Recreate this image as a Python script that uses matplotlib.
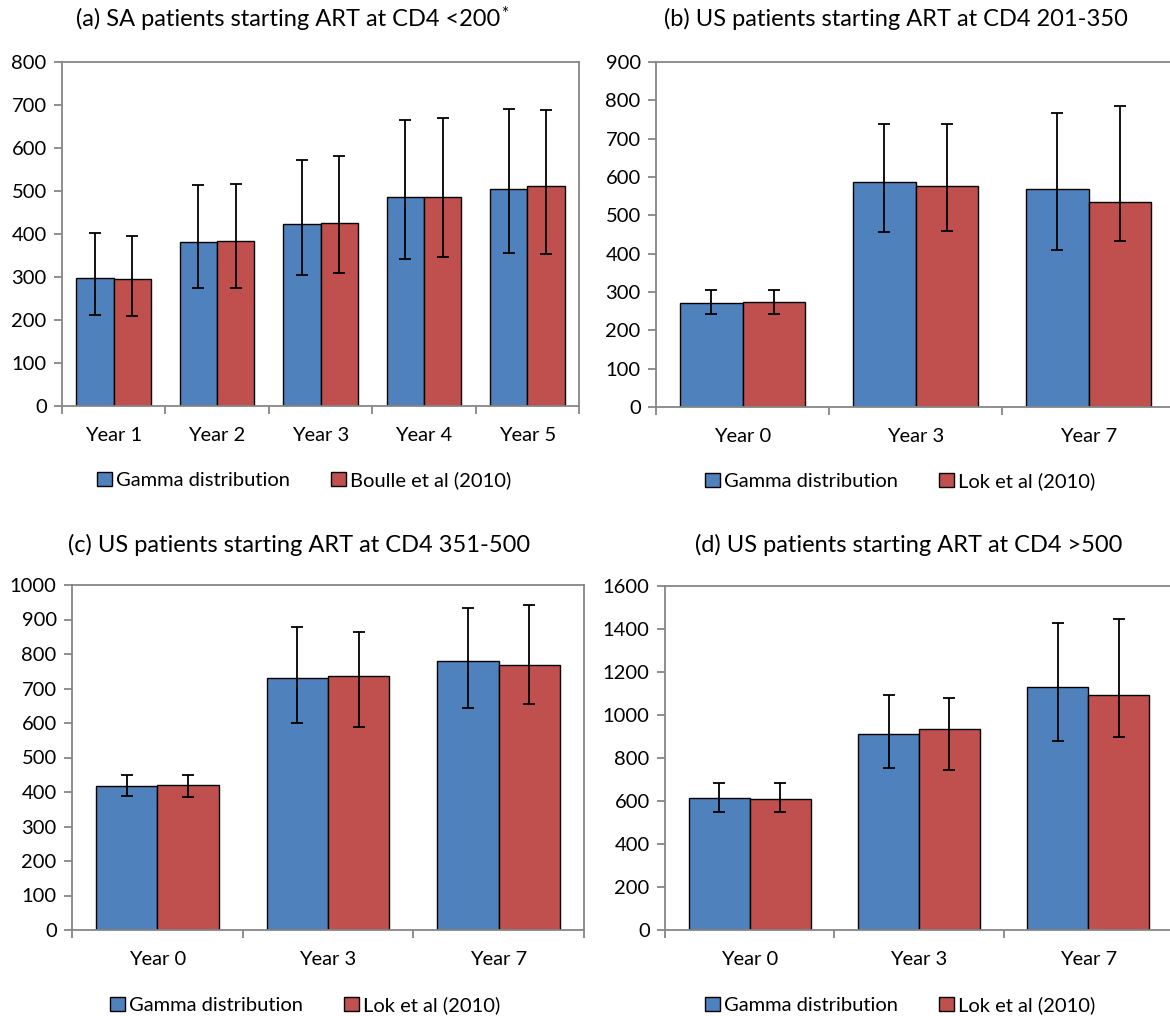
import matplotlib
matplotlib.use('Agg')
import matplotlib.pyplot as plt
import numpy as np

plt.rcParams['font.family'] = ['Lato', 'DejaVu Sans']

BLUE = '#4F81BD'
RED = '#C0504D'
GREY = '#868686'

# (a) South Africa, CD4 <200
a_years = ['Year 1', 'Year 2', 'Year 3', 'Year 4', 'Year 5']
a_gamma = [298, 382, 424, 486, 505]
a_gamma_lo = [211, 275, 304, 343, 356]
a_gamma_hi = [403, 515, 571, 665, 690]
a_ref = [296, 383, 426, 486, 512]
a_ref_lo = [209, 275, 309, 346, 353]
a_ref_hi = [396, 516, 581, 669, 688]

# (b) US, CD4 201-350
b_years = ['Year 0', 'Year 3', 'Year 7']
b_gamma = [272, 586, 569]
b_gamma_lo = [242, 456, 410]
b_gamma_hi = [306, 738, 766]
b_ref = [275, 577, 534]
b_ref_lo = [242, 459, 434]
b_ref_hi = [306, 739, 786]

# (c) US, CD4 351-500
c_years = ['Year 0', 'Year 3', 'Year 7']
c_gamma = [417, 730, 780]
c_gamma_lo = [387, 601, 643]
c_gamma_hi = [450, 877, 934]
c_ref = [419, 737, 767]
c_ref_lo = [386, 589, 654]
c_ref_hi = [448, 865, 943]

# (d) US, CD4 >500
d_years = ['Year 0', 'Year 3', 'Year 7']
d_gamma = [614, 911, 1131]
d_gamma_lo = [549, 754, 877]
d_gamma_hi = [684, 1093, 1428]
d_ref = [610, 935, 1094]
d_ref_lo = [549, 743, 899]
d_ref_hi = [684, 1080, 1445]

W, H = 1170, 1016
fig = plt.figure(figsize=(W / 100, H / 100), dpi=100)


def box(l, r, t, b):
    return [l / W, 1 - b / H, (r - l) / W, (b - t) / H]


def panel(rect, years, g, g_lo, g_hi, r, r_lo, r_hi, ymax, ystep,
          title, ref_label, title_xy, legend_xy, star=False):
    ax = fig.add_axes(rect)
    n = len(years)
    x = np.arange(n)
    w = 0.36
    g = np.array(g)
    r = np.array(r)
    ax.bar(x - w / 2, g, w, color=BLUE, edgecolor='black', linewidth=1.0,
           label='Gamma distribution', zorder=2)
    ax.bar(x + w / 2, r, w, color=RED, edgecolor='black', linewidth=1.0,
           label=ref_label, zorder=2)
    eb = dict(fmt='none', ecolor='black', elinewidth=1.3, capsize=4.5,
              capthick=1.3, zorder=3)
    ax.errorbar(x - w / 2, g, yerr=[g - np.array(g_lo), np.array(g_hi) - g], **eb)
    ax.errorbar(x + w / 2, r, yerr=[r - np.array(r_lo), np.array(r_hi) - r], **eb)

    ax.set_xlim(-0.5, n - 0.5)
    ax.set_ylim(0, ymax)
    ax.set_yticks(np.arange(0, ymax + 1, ystep))
    ax.set_xticks(np.arange(n + 1) - 0.5)
    ax.set_xticklabels([])
    ax.set_xticks(x, minor=True)
    ax.set_xticklabels(years, minor=True)
    ax.tick_params(axis='x', which='minor', length=0, pad=15, labelsize=14.5)
    ax.tick_params(axis='x', which='major', length=6, width=1.3, color=GREY)
    ax.tick_params(axis='y', length=6, width=1.3, color=GREY, labelsize=14.5, pad=5)
    for s in ax.spines.values():
        s.set_color(GREY)
        s.set_linewidth(1.3)

    t = fig.text(title_xy[0] / W, 1 - title_xy[1] / H, title, ha='center',
                 va='center', fontsize=17)
    if star:
        fig.canvas.draw()
        bb = t.get_window_extent()
        fig.text(bb.x1 / W + 0.001, bb.y1 / H + 0.002, '*', ha='left',
                 va='top', fontsize=12)

    fig.legend(handles=ax.get_legend_handles_labels()[0],
               loc='center', bbox_to_anchor=(legend_xy[0] / W, 1 - legend_xy[1] / H),
               ncol=2, frameon=False, fontsize=14.5, handlelength=0.75,
               handleheight=0.75, handletextpad=0.2, columnspacing=2.0)
    return ax


panel(box(62, 579, 62, 406), a_years, a_gamma, a_gamma_lo, a_gamma_hi,
      a_ref, a_ref_lo, a_ref_hi, 800, 100,
      '(a) SA patients starting ART at CD4 <200', 'Boulle et al (2010)',
      (288, 19), (304, 480), star=True)
panel(box(656, 1175, 62, 407), b_years, b_gamma, b_gamma_lo, b_gamma_hi,
      b_ref, b_ref_lo, b_ref_hi, 900, 100,
      '(b) US patients starting ART at CD4 201-350', 'Lok et al (2010)',
      (896, 19), (900, 481))
panel(box(72, 584, 585, 930), c_years, c_gamma, c_gamma_lo, c_gamma_hi,
      c_ref, c_ref_lo, c_ref_hi, 1000, 100,
      '(c) US patients starting ART at CD4 351-500', 'Lok et al (2010)',
      (299, 545), (305, 1005))
panel(box(665, 1173, 586, 930), d_years, d_gamma, d_gamma_lo, d_gamma_hi,
      d_ref, d_ref_lo, d_ref_hi, 1600, 200,
      '(d) US patients starting ART at CD4 >500', 'Lok et al (2010)',
      (909, 545), (900, 1005))

fig.savefig('out.png', dpi=100)
